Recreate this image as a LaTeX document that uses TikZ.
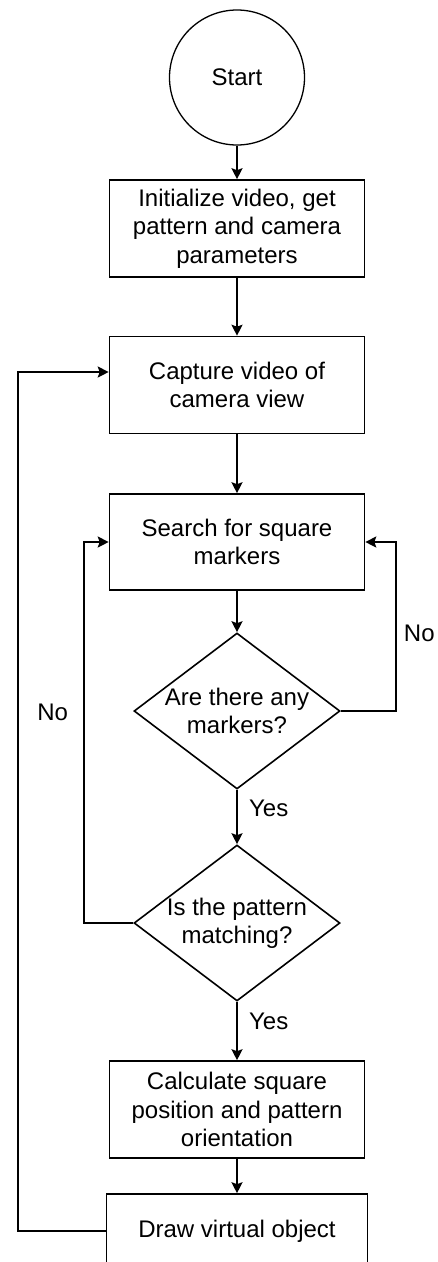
\documentclass[tikz,border=0pt]{standalone}
\usepackage{fontspec}
\setmainfont{Liberation Sans}
\usetikzlibrary{shapes.geometric, arrows.meta}

\tikzset{
    txt/.style = {font = \fontsize{24pt}{28.3pt}\selectfont},
    process/.style = {draw, rectangle, line width = 1.6pt, minimum width = 255pt, minimum height = 97pt, align = center, inner sep = 0pt, txt},
    decision/.style = {draw, diamond, line width = 1.6pt, minimum width = 206pt, minimum height = 156pt, aspect = 1.32, align = center, inner sep = -4pt, txt},
    link/.style = {->, > = {Stealth[length = 11pt, width = 11pt, inset = 2pt]}, line width = 1.6pt}
}

\begin{document}
\begin{tikzpicture}
        \clip (0pt, 0pt) rectangle (437pt, -1262pt);

        % Nodes
        \node [circle, draw, line width = 1.3pt, minimum size = 135pt, txt] (start) at (237pt, -77.5pt) {Start};
        \node [process] (init) at (237pt, -228.5pt) {Initialize video, get\\pattern and camera\\parameters};
        \node [process] (capture) at (237pt, -385pt) {Capture video of\\camera view};
        \node [process, minimum height = 96pt] (search) at (237pt, -542pt) {Search for square\\markers};
        \node [decision] (any) at (237pt, -711pt) {Are there any\\markers?};
        \node [decision] (match) at (237pt, -923pt) {Is the pattern\\matching?};
        \node [process] (calc) at (237pt, -1109.5pt) {Calculate square\\position and pattern\\orientation};
        \node [process, minimum width = 261pt, minimum height = 74pt] (show) at (237pt, -1231pt) {Draw virtual object};

        % Draw the links
        \draw [link] (start) -- (init);
        \draw [link] (init) -- (capture);
        \draw [link] (capture) -- (search);
        \draw [link] (search) -- (any);
        \draw [link] (any) -- node [pos = 0.35, right = 8pt, txt] {Yes} (match);
        \draw [link] (match) -- node [pos = 0.33, right = 8pt, txt] {Yes} (calc);
        \draw [link] (calc) -- (show);

        % Loops back
        \draw [link] (any.east) -- ++(55pt, 0pt) |- node [pos = 0.23, right = 4pt, txt] {No} (search.east);
        \draw [link] (match.west) -- ++(-49pt, 0pt) |- node [pos = 0.276, left = 12pt, txt] {No} (search.west);
        \draw [link] (show.west) -- ++(-88pt, 0pt) |- ([yshift = 13pt]capture.west);

\end{tikzpicture}
\end{document}
